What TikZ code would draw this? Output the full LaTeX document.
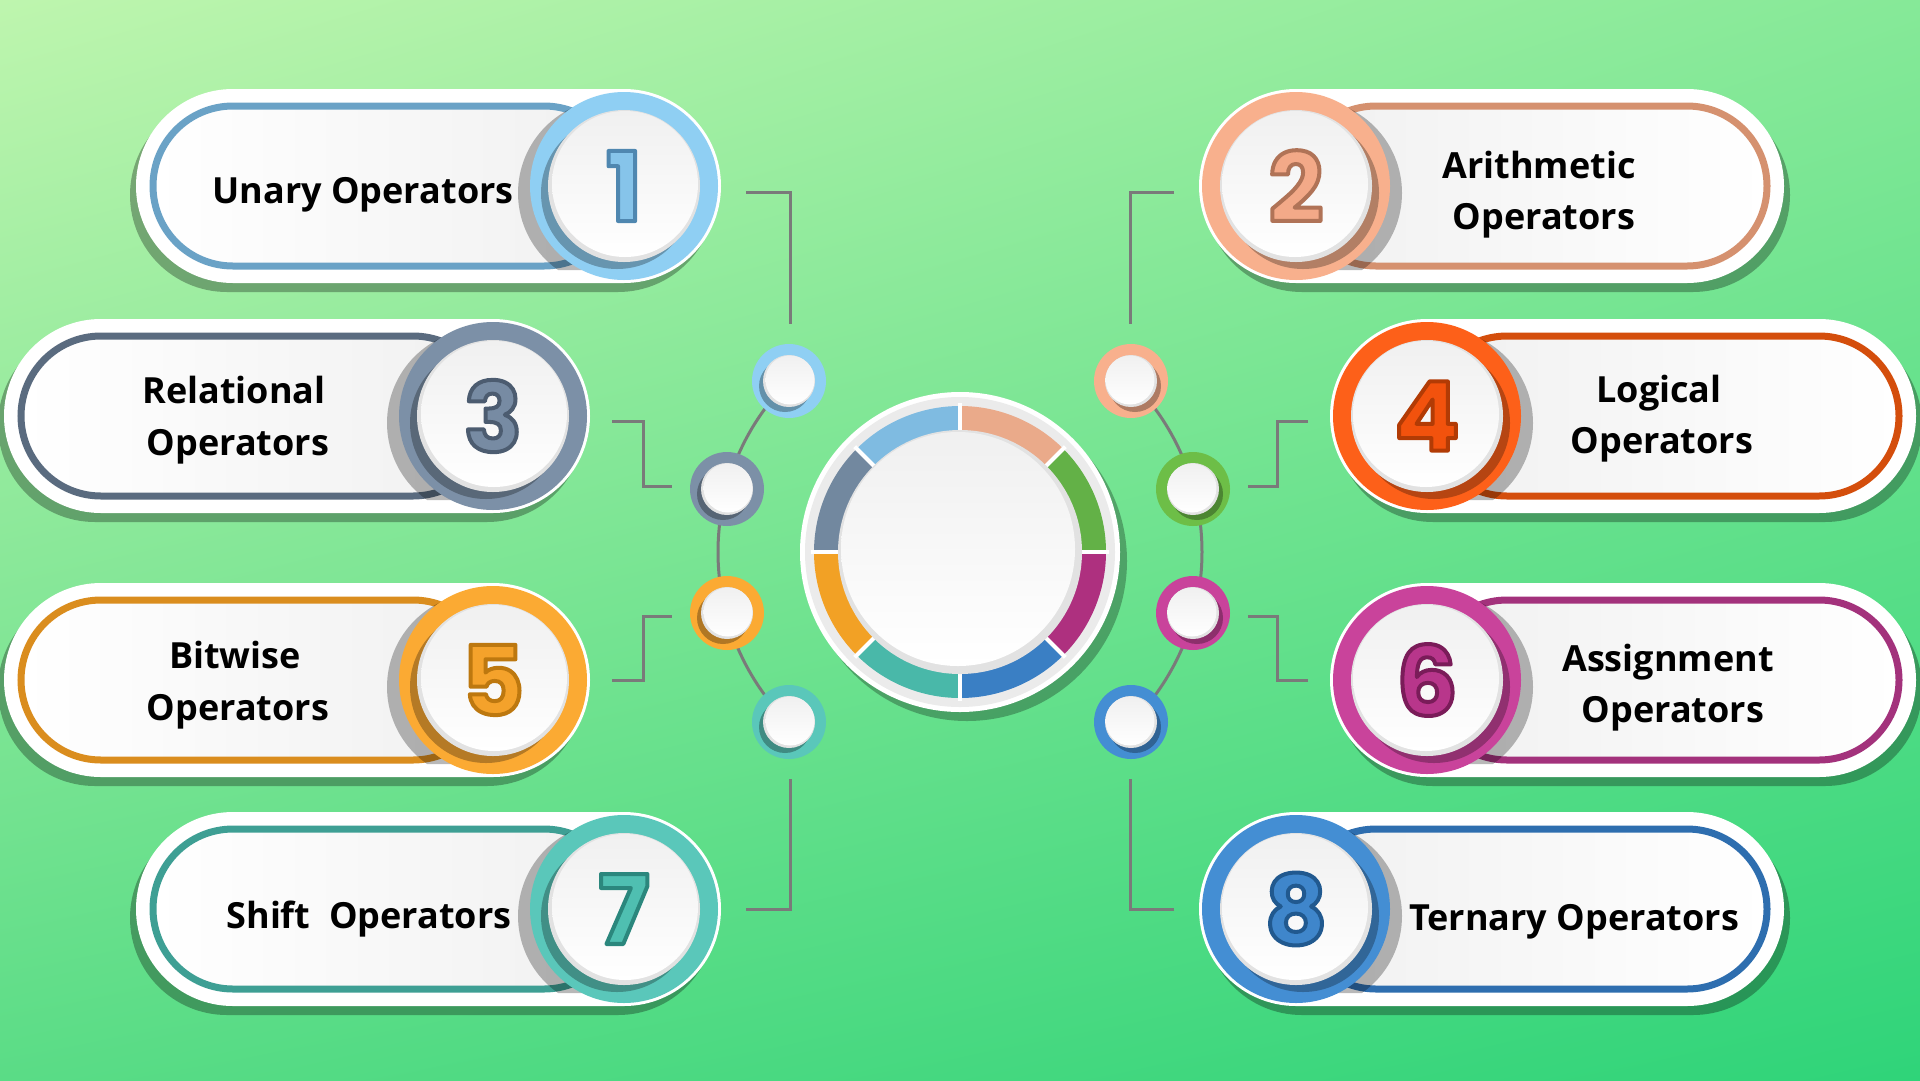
\documentclass[tikz,border=0pt]{standalone}
\usepackage{fontspec}
\setmainfont{Open Sans}
\newfontfamily\numfont{Poppins}
\usetikzlibrary{shadings}
\definecolor{cA}{HTML}{8FCFF3}\definecolor{bA}{HTML}{6AA2C6}\definecolor{dA}{HTML}{86C4EA}
\definecolor{cB}{HTML}{F8B08D}\definecolor{bB}{HTML}{D5916F}\definecolor{dB}{HTML}{F3A988}
\definecolor{cC}{HTML}{7C90A7}\definecolor{bC}{HTML}{5A6B7F}\definecolor{dC}{HTML}{778BA3}
\definecolor{cD}{HTML}{FD6019}\definecolor{bD}{HTML}{D44E0C}\definecolor{dD}{HTML}{F2520D}
\definecolor{cE}{HTML}{FBAA33}\definecolor{bE}{HTML}{DA8D1E}\definecolor{dE}{HTML}{F4A22B}
\definecolor{cF}{HTML}{C9439B}\definecolor{bF}{HTML}{A3327C}\definecolor{dF}{HTML}{B8368B}
\definecolor{cG}{HTML}{5AC7BA}\definecolor{bG}{HTML}{3E9F94}\definecolor{dG}{HTML}{4FBFB1}
\definecolor{cH}{HTML}{448ED3}\definecolor{bH}{HTML}{2E6EAF}\definecolor{dH}{HTML}{3F86CB}
\definecolor{gsm}{HTML}{6DBE47}
\definecolor{linegray}{HTML}{7A7A7A}
\definecolor{pillg}{HTML}{F0F0F0}
\definecolor{rimgray}{HTML}{E2E2E2}
\definecolor{innerg}{HTML}{F0F0F0}
\definecolor{ringgray}{HTML}{EBEBEB}
\definecolor{bgUL}{HTML}{BEF5AE}
\definecolor{bgUR}{HTML}{86E998}
\definecolor{bgLL}{HTML}{5ADC86}
\definecolor{bgLR}{HTML}{2FD479}
\definecolor{sgLB}{HTML}{7FBBE1}
\definecolor{sgSa}{HTML}{EAAA8A}
\definecolor{sgGr}{HTML}{63B147}
\definecolor{sgMa}{HTML}{AE307F}
\definecolor{sgBl}{HTML}{3A7FC4}
\definecolor{sgTe}{HTML}{49B8A9}
\definecolor{sgOr}{HTML}{F2A125}
\definecolor{sgSl}{HTML}{72889F}
% digit: id, x, y, fill colour, digit, stroke rgb
\newcommand\digitN[6]{%
  \node[text=#4,inner sep=0pt] (n#1) at (#2,#3)
    {\numfont\bfseries\fontsize{96}{96}\selectfont\special{pdf:literal direct 1 j 4 w #6 RG 2 Tr}#5\special{pdf:literal direct 0 Tr 1 w}};
}
% left pill: id, xa, cx, cy, ring, border, digit, digit fill, stroke rgb
\newcommand\opPillL[9]{%
  \fill[black,opacity=.3,rounded corners=97pt] ({#2-6},{#4-88}) rectangle ({#3+91},{#4+106});
  \fill[white,rounded corners=97pt] (#2,{#4-97}) rectangle ({#3+97},{#4+97});
  \draw[#6,line width=7pt,left color=white,right color=pillg,rounded corners=80pt] ({#2+17},{#4-80}) rectangle (#3,{#4+80});
  \begin{scope}
    \clip[rounded corners=84pt] ({#2+13},{#4-84}) rectangle ({#3+200},{#4+84});
    \fill[black,opacity=.28] ({#3-12},{#4+7}) circle (94);
  \end{scope}
  \fill[#5] (#3,#4) circle (94);
  \fill[#5!72!black] ({#3-7},{#4+7}) circle (76);
  \fill[rimgray] (#3,#4) circle (76);
  \shade[top color=innerg,bottom color=white] ({#3+1},{#4-2}) circle (73);
  \digitN{#1}{#3}{#4}{#8}{#7}{#9}
}
% right pill: id, xb, cx, cy, ring, border, digit, digit fill, stroke rgb
\newcommand\opPillR[9]{%
  \fill[black,opacity=.3,rounded corners=97pt] ({#3-91},{#4-88}) rectangle ({#2+6},{#4+106});
  \fill[white,rounded corners=97pt] ({#3-97},{#4-97}) rectangle (#2,{#4+97});
  \draw[#6,line width=7pt,left color=pillg,right color=white,rounded corners=80pt] (#3,{#4-80}) rectangle ({#2-17},{#4+80});
  \begin{scope}
    \clip[rounded corners=84pt] ({#3-200},{#4-84}) rectangle ({#2-13},{#4+84});
    \fill[black,opacity=.28] ({#3+12},{#4+7}) circle (94);
  \end{scope}
  \fill[#5] (#3,#4) circle (94);
  \fill[#5!72!black] ({#3+7},{#4+7}) circle (76);
  \fill[rimgray] (#3,#4) circle (76);
  \shade[top color=innerg,bottom color=white] ({#3-1},{#4-2}) circle (73);
  \digitN{#1}{#3}{#4}{#8}{#7}{#9}
}
% small dot: id, x, y, color, side
\newcommand\smallDot[5]{%
  \node[circle,fill=#4,minimum size=74pt,inner sep=0pt] (s#1) at (#2,#3) {};
  \fill[#4!70!black] ({#2+(#5)*4},{#3+5}) circle (26);
  \fill[rimgray] (#2,#3) circle (26);
  \shade[top color=innerg,bottom color=white] ({#2-(#5)*1},{#3-1}) circle (24.5);
}
\newcommand\segm[3]{%
  \fill[#3] (#1:146) arc[start angle=#1,end angle=#2,radius=146] -- (#2:120) arc[start angle=#2,end angle=#1,radius=120] -- cycle;}
\begin{document}
\begin{tikzpicture}[x=1pt,y=-1pt,
  lbl/.style={font=\bfseries\fontsize{36}{44}\selectfont,text=black,inner sep=0pt,anchor=base},
  conn/.style={draw=linegray,line width=3pt}]
\useasboundingbox (0,0) rectangle (1920,1080);
\clip (0,0) rectangle (1920,1080);
\shade[upper left=bgUL, upper right=bgUR, lower left=bgLL, lower right=bgLR] (0,0) rectangle (1920,1080);

% ---- grey arcs behind the small dots
\coordinate (ctrpt) at (960,552);
\draw[conn] (ctrpt) ++(135:242) arc[start angle=135,end angle=225,radius=242];
\draw[conn] (ctrpt) ++(-45:242) arc[start angle=-45,end angle=45,radius=242];

% ---- elbow connectors
\coordinate (k1a) at (746,192); \coordinate (k1b) at (790,324);
\coordinate (k3a) at (612,421); \coordinate (k3b) at (672,486);
\coordinate (k5a) at (612,680); \coordinate (k5b) at (672,616);
\coordinate (k7a) at (746,909); \coordinate (k7b) at (790,779);
\coordinate (k2a) at (1174,192); \coordinate (k2b) at (1130,324);
\coordinate (k4a) at (1308,421); \coordinate (k4b) at (1248,486);
\coordinate (k6a) at (1308,680); \coordinate (k6b) at (1248,616);
\coordinate (k8a) at (1174,909); \coordinate (k8b) at (1130,779);
\draw[conn] (k1a) -| (k1b);
\draw[conn] (k3a) -- ++(31,0) |- (k3b);
\draw[conn] (k5a) -- ++(31,0) |- (k5b);
\draw[conn] (k7a) -| (k7b);
\draw[conn] (k2a) -| (k2b);
\draw[conn] (k4a) -- ++(-31,0) |- (k4b);
\draw[conn] (k6a) -- ++(-31,0) |- (k6b);
\draw[conn] (k8a) -| (k8b);

% ---- small dots
\smallDot{1}{789}{381}{cA}{-1}
\smallDot{3}{727}{489}{cC}{-1}
\smallDot{5}{727}{613}{cE}{-1}
\smallDot{7}{789}{722}{cG}{-1}
\smallDot{2}{1131}{381}{cB}{1}
\smallDot{4}{1193}{489}{gsm}{1}
\smallDot{6}{1193}{613}{cF}{1}
\smallDot{8}{1131}{722}{cH}{1}

% ---- central disc
\fill[black,opacity=.28] (967,561) circle (160);
\node[circle,fill=white,minimum size=320pt,inner sep=0pt] (ctr) at (960,552) {};
\fill[ringgray] (960,552) circle (155);
\begin{scope}[shift={(960,552)}]
  \segm{-90}{-45}{sgSa}
  \segm{-45}{0}{sgGr}
  \segm{0}{45}{sgMa}
  \segm{45}{90}{sgBl}
  \segm{90}{135}{sgTe}
  \segm{135}{180}{sgOr}
  \segm{180}{225}{sgSl}
  \segm{225}{270}{sgLB}
  \foreach \a in {0,45,...,315} \draw[white,line width=4pt] (\a:117) -- (\a:149);
  \fill[rimgray] (0,0) circle (122);
  \shade[top color=innerg,bottom color=white] (-2,-3) circle (117);
\end{scope}

% ---- pills
\opPillL{1}{136}{624}{186}{cA}{bA}{1}{dA}{.31 .53 .69}
\opPillL{3}{4}{493}{416}{cC}{bC}{3}{dC}{.30 .36 .44}
\opPillL{5}{4}{493}{680}{cE}{bE}{5}{dE}{.74 .47 .06}
\opPillL{7}{136}{624}{909}{cG}{bG}{7}{dG}{.17 .53 .49}
\opPillR{2}{1784}{1296}{186}{cB}{bB}{2}{dB}{.69 .45 .34}
\opPillR{4}{1916}{1427}{416}{cD}{bD}{4}{dD}{.70 .23 .02}
\opPillR{6}{1916}{1427}{680}{cF}{bF}{6}{dF}{.48 .11 .35}
\opPillR{8}{1784}{1296}{909}{cH}{bH}{8}{dH}{.13 .35 .56}

% ---- labels
\node[lbl] (t1) at (363,203) {Unary Operators};
\node[lbl] (t3a) at (234,403) {Relational};
\node[lbl] (t3b) at (238,455) {Operators};
\node[lbl] (t5a) at (235,668) {Bitwise};
\node[lbl] (t5b) at (238,720) {Operators};
\node[lbl] (t7) at (369,928) {Shift\ \ Operators};
\node[lbl] (t2a) at (1539,178) {Arithmetic};
\node[lbl] (t2b) at (1544,229) {Operators};
\node[lbl] (t4a) at (1659,402) {Logical};
\node[lbl] (t4b) at (1662,453) {Operators};
\node[lbl] (t6a) at (1668,671) {Assignment};
\node[lbl] (t6b) at (1673,722) {Operators};
\node[lbl] (t8) at (1574,930) {Ternary Operators};
\end{tikzpicture}
\end{document}
